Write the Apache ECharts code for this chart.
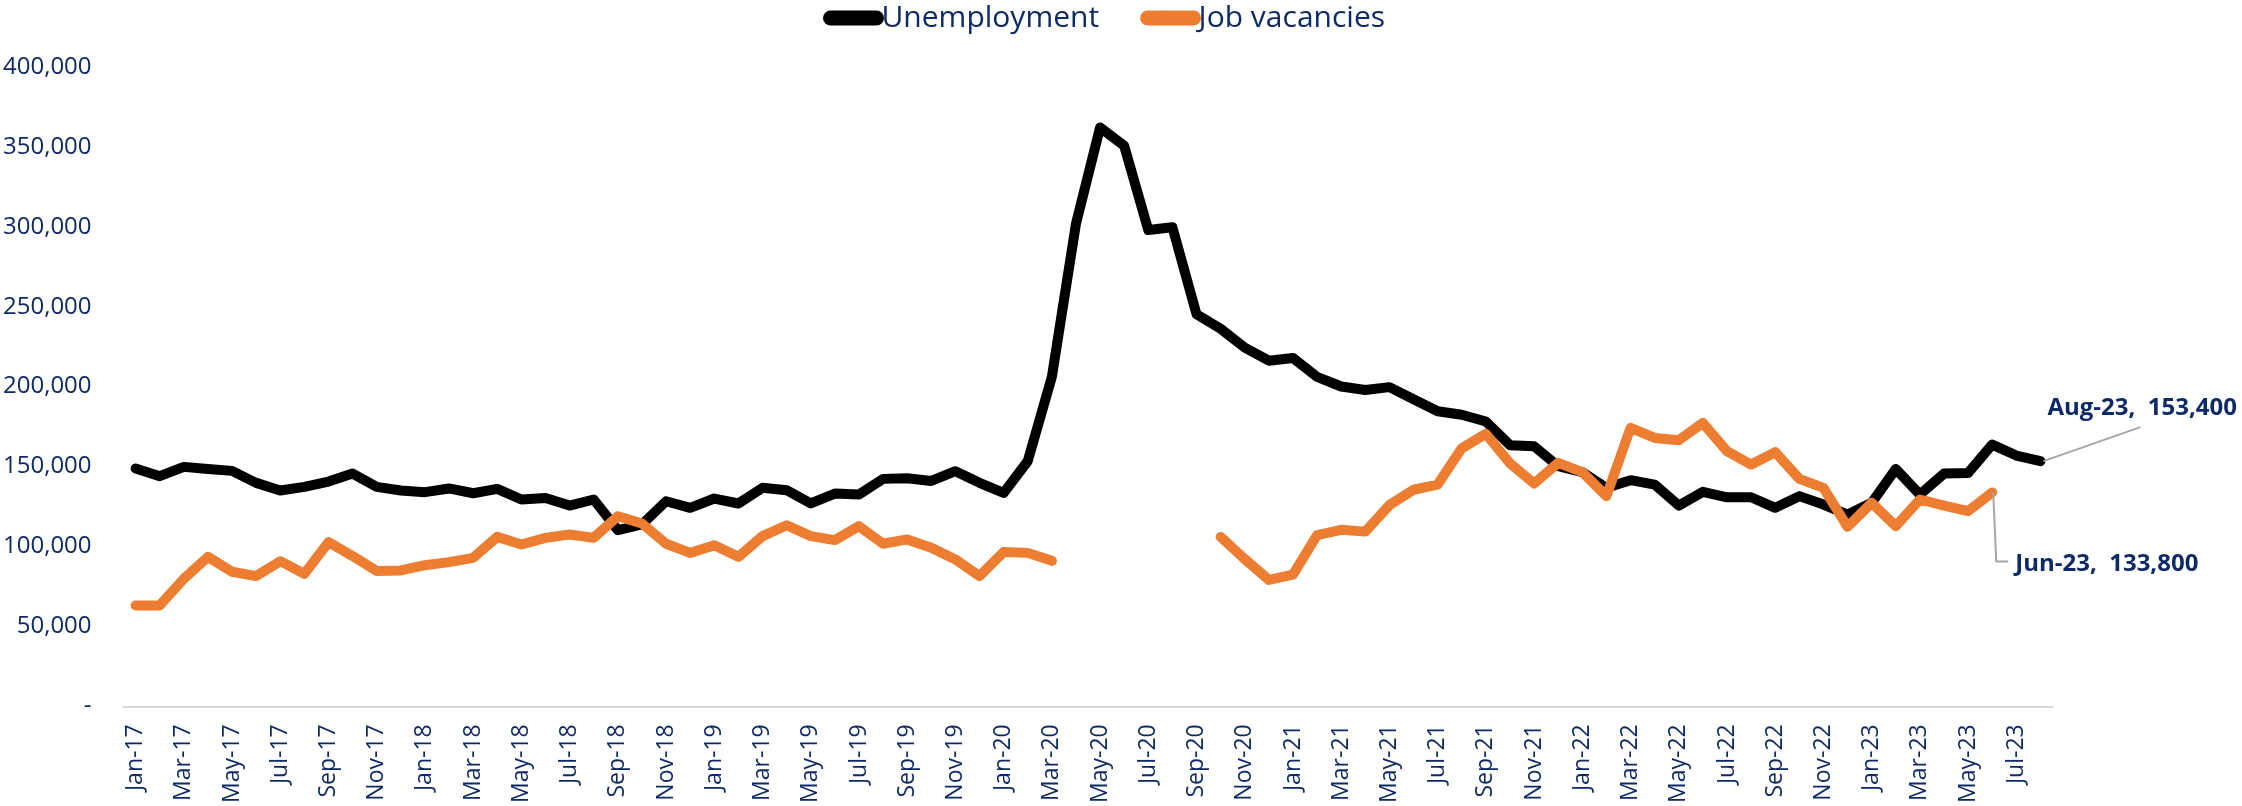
<!DOCTYPE html>
<html>
<head>
<meta charset="utf-8">
<script src="https://cdn.jsdelivr.net/npm/echarts@6/dist/echarts.min.js"></script>
<style>
html,body{margin:0;padding:0;background:#fff;}
#chart{width:2242px;height:806px;}
</style>
</head>
<body>
<div id="chart"></div>
<script>
const months = [
'Jan-17','Feb-17','Mar-17','Apr-17','May-17','Jun-17','Jul-17','Aug-17','Sep-17','Oct-17','Nov-17','Dec-17',
'Jan-18','Feb-18','Mar-18','Apr-18','May-18','Jun-18','Jul-18','Aug-18','Sep-18','Oct-18','Nov-18','Dec-18',
'Jan-19','Feb-19','Mar-19','Apr-19','May-19','Jun-19','Jul-19','Aug-19','Sep-19','Oct-19','Nov-19','Dec-19',
'Jan-20','Feb-20','Mar-20','Apr-20','May-20','Jun-20','Jul-20','Aug-20','Sep-20','Oct-20','Nov-20','Dec-20',
'Jan-21','Feb-21','Mar-21','Apr-21','May-21','Jun-21','Jul-21','Aug-21','Sep-21','Oct-21','Nov-21','Dec-21',
'Jan-22','Feb-22','Mar-22','Apr-22','May-22','Jun-22','Jul-22','Aug-22','Sep-22','Oct-22','Nov-22','Dec-22',
'Jan-23','Feb-23','Mar-23','Apr-23','May-23','Jun-23','Jul-23','Aug-23'
];

const unemployment = [
148800,144000,149800,148500,147300,139800,135000,137300,140600,145600,137300,135000,
134000,136300,133300,136000,129400,130400,125600,129400,110200,113750,128300,124200,
130000,126900,136700,135200,126900,133100,132500,142300,142700,141000,147100,139800,
133500,153400,206100,301900,362200,350700,298000,299750,245300,236250,224400,216250,
217900,206100,200100,197900,199700,192100,184600,182400,178200,163400,162700,150200,
146500,136700,141500,138750,125600,134200,130800,130800,124200,131500,126250,120000,
127300,148500,132500,145600,146000,163750,156900,153400
];

const jobVacancies = [
63100,63100,79800,93500,84200,81500,90800,82900,102700,94000,84600,85000,
88300,90200,92900,106000,101250,105400,107500,105400,118900,114400,101700,96000,
100800,93500,106500,113300,106500,104000,112700,101700,104400,99200,91900,81500,
96500,96000,91000,null,null,null,null,null,null,106000,92100,79100,
82400,107100,110400,109300,125900,135500,138750,161400,170500,152000,139400,152300,
146500,131500,174200,167900,166500,177300,159600,151250,159000,142300,136700,112300,
127300,112700,129400,125600,122100,133800,null,null
];

const yTicks = {min: 0, max: 400000, interval: 50000};
const annotations = [
  {series: 0, index: 79, text: 'Aug-23,  153,400'},
  {series: 1, index: 77, text: 'Jun-23,  133,800'}
];

const navy = '#0e2a66';
const font = "'Open Sans', 'Noto Sans', sans-serif";

const chart = echarts.init(document.getElementById('chart'), null, {renderer: 'canvas'});

const option = {
  backgroundColor: '#ffffff',
  animation: false,
  textStyle: {fontFamily: font},
  grid: {left: 122, right: 189.5, top: 67, bottom: 99, containLabel: false},
  legend: {
    top: -2,
    left: 818,
    itemWidth: 46,
    itemHeight: 15,
    itemGap: 41,
    lineStyle: {width: 15, cap: 'round'},
    textStyle: {fontSize: 30, color: navy, fontFamily: font, padding: [0, 0, 0, 0]},
    data: ['Unemployment', 'Job vacancies']
  },
  xAxis: {
    type: 'category',
    data: months,
    boundaryGap: true,
    axisLine: {show: true, lineStyle: {color: '#d9d9d9', width: 2}},
    axisTick: {show: false},
    axisLabel: {interval: 1, rotate: 90, fontSize: 23, color: navy, margin: 18, fontFamily: font},
    splitLine: {show: false}
  },
  yAxis: {
    type: 'value',
    min: yTicks.min, max: yTicks.max, interval: yTicks.interval,
    axisLine: {show: false},
    axisTick: {show: false},
    splitLine: {show: false},
    axisLabel: {
      fontSize: 24, color: navy, margin: 32, fontFamily: font,
      formatter: v => v === 0 ? '-' : v.toLocaleString('en-US')
    }
  },
  series: [
    {
      name: 'Unemployment', type: 'line', data: unemployment,
      showSymbol: false, symbol: 'none', connectNulls: false,
      itemStyle: {color: '#000000'},
      lineStyle: {color: '#000000', width: 10, cap: 'round', join: 'round'},
      z: 2
    },
    {
      name: 'Job vacancies', type: 'line', data: jobVacancies,
      showSymbol: false, symbol: 'none', connectNulls: false,
      itemStyle: {color: '#ED7D31'},
      lineStyle: {color: '#ED7D31', width: 10, cap: 'round', join: 'round'},
      z: 3
    }
  ]
};
chart.setOption(option);

function buildAnnotations() {
  const g = [];
  const seriesData = [unemployment, jobVacancies];
  annotations.forEach(a => {
    const p = chart.convertToPixel({seriesIndex: a.series}, [a.index, seriesData[a.series][a.index]]);
    const x = p[0], y = p[1];
    if (a.series === 0) {
      g.push({type: 'polyline', silent: true, z: 10,
        shape: {points: [[x + 3, y], [x + 100, y - 34]]},
        style: {stroke: '#a6a6a6', lineWidth: 2, fill: null}});
      g.push({type: 'text', x: x + 7, y: y - 53, z: 10,
        style: {text: a.text, fill: navy, font: "bold 24px " + font, textAlign: 'left', textVerticalAlign: 'middle'}});
    } else {
      g.push({type: 'polyline', silent: true, z: 10,
        shape: {points: [[x + 1, y], [x + 4, y + 69], [x + 16, y + 69]]},
        style: {stroke: '#a6a6a6', lineWidth: 2, fill: null}});
      g.push({type: 'text', x: x + 23, y: y + 72, z: 10,
        style: {text: a.text, fill: navy, font: "bold 24px " + font, textAlign: 'left', textVerticalAlign: 'middle'}});
    }
  });
  chart.setOption({graphic: g});
}
buildAnnotations();
</script>
</body>
</html>
